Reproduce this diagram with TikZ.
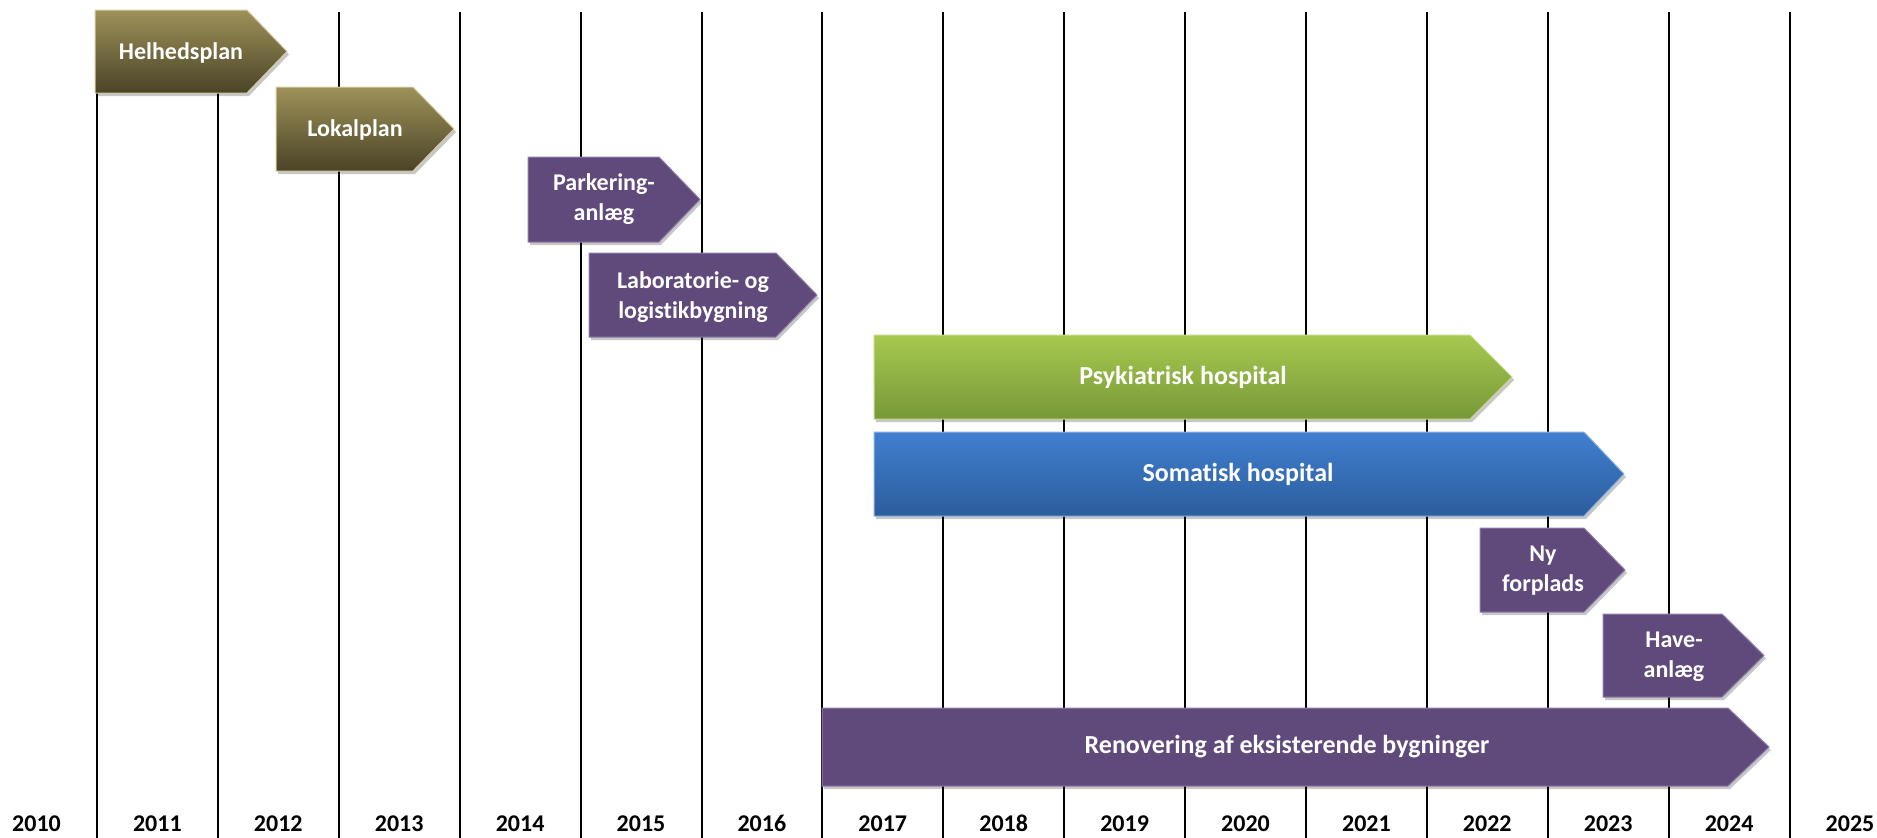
\documentclass[tikz,border=0pt]{standalone}
\usepackage{fontspec}
\setmainfont{Carlito}[Ligatures=NoCommon]
\usetikzlibrary{shadows}
\definecolor{olivetop}{HTML}{9E9259}
\definecolor{olivebot}{HTML}{4A4327}
\definecolor{oliveedge}{HTML}{D6CFA6}
\definecolor{purp}{HTML}{604A7B}
\definecolor{purpedge}{HTML}{8F7DAA}
\definecolor{greentop}{HTML}{A7C94F}
\definecolor{greenbot}{HTML}{779838}
\definecolor{greenedge}{HTML}{C4DC8C}
\definecolor{bluetop}{HTML}{407FD0}
\definecolor{bluebot}{HTML}{2C5D9C}
\definecolor{blueedge}{HTML}{8FB2E0}
\newcommand\tlbar[6]{\path[#1] (#2,-#3) -- (#5,-#3) -- (#6,{-(#3+#4)/2}) -- (#5,-#4) -- (#2,-#4) -- cycle;}
\begin{document}
\begin{tikzpicture}[x=1pt,y=1pt,
  gridline/.style={line width=2pt,black},
  yearlabel/.style={font=\fontsize{24}{29}\selectfont\bfseries,text=black,inner sep=0pt,anchor=base},
  barlabel/.style={font=\fontsize{24}{30}\selectfont\bfseries,text=white,align=center,inner sep=0pt},
  bigbarlabel/.style={font=\fontsize{26}{31}\selectfont\bfseries,text=white,inner sep=0pt},
  barshadow/.style={drop shadow={shadow xshift=2pt,shadow yshift=-3pt,opacity=0.22,fill=black}},
  olivebar/.style={barshadow,top color=olivetop,bottom color=olivebot,draw=oliveedge,line width=1pt},
  purplebar/.style={barshadow,fill=purp,draw=purpedge,line width=1pt},
  greenbar/.style={barshadow,top color=greentop,bottom color=greenbot,draw=greenedge,line width=1pt},
  bluebar/.style={barshadow,top color=bluetop,bottom color=bluebot,draw=blueedge,line width=1pt}]
\useasboundingbox[fill=white] (0,-838) rectangle (1877,0);
% grid lines
\foreach \k in {0,...,14}{
  \draw[gridline] ({97+120.9*\k},-12) -- ({97+120.9*\k},-838);
}
% year labels
\foreach \i in {0,...,15}{
  \pgfmathtruncatemacro\yr{2010+\i}
  \node[yearlabel] (y\yr) at ({36.5+120.9*\i},-831) {\yr};
}
% bars
\tlbar{olivebar}{95}{10}{93}{247}{287}
\node[barlabel] (helhed) at (181,-53) {Helhedsplan};
\tlbar{olivebar}{276}{87}{171}{413}{454}
\node[barlabel] (lokal) at (355,-130) {Lokalplan};
\tlbar{purplebar}{528}{157}{242}{659}{700}
\node[barlabel] (parkering) at (604,-199) {Parkering-\\anlæg};
\tlbar{purplebar}{589}{253}{337}{776}{817}
\node[barlabel] (lab) at (693,-297) {Laboratorie- og\\logistikbygning};
\tlbar{greenbar}{874}{335}{419}{1470}{1512}
\node[bigbarlabel] (psyk) at (1183,-377) {Psykiatrisk hospital};
\tlbar{bluebar}{874}{432}{516}{1584}{1624}
\node[bigbarlabel] (soma) at (1238,-474) {Somatisk hospital};
\tlbar{purplebar}{1480}{528}{612}{1584}{1625}
\node[barlabel] (forplads) at (1543,-571) {Ny\\forplads};
\tlbar{purplebar}{1603}{614}{697}{1722}{1764}
\node[barlabel] (have) at (1674,-657) {Have-\\anlæg};
\tlbar{purplebar}{822}{708}{786}{1728}{1769}
\node[bigbarlabel] (renov) at (1287,-747) {Renovering af eksisterende bygninger};
\end{tikzpicture}
\end{document}
